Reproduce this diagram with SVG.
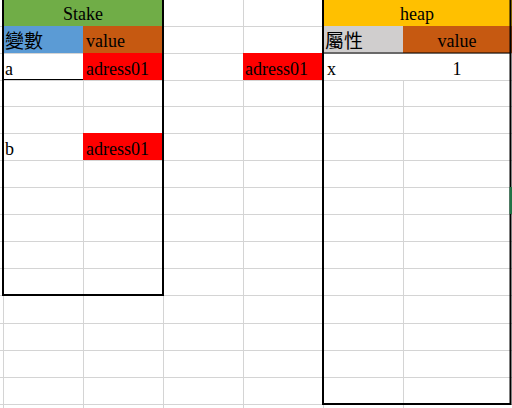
<svg xmlns="http://www.w3.org/2000/svg" width="512" height="408" viewBox="0 0 512 408">
  <style>
    .grid line { stroke: #d4d4d4; stroke-width: 1; }
    .t { font-family: "Liberation Serif", "Noto Sans CJK TC", serif; font-size: 18px; fill: #000; }
    .cjk { font-family: "Noto Sans CJK TC", "Liberation Serif", sans-serif; font-size: 19px; fill: #000; }
    .mid { text-anchor: middle; }
    .box { fill: none; stroke: #000; stroke-width: 2; }
    .thin { stroke: #000; stroke-width: 1.2; }
  </style>
  <rect width="512" height="408" fill="#ffffff"/>
  <g class="grid" id="grid">
    <line x1="0" y1="26.5" x2="512" y2="26.5"/>
    <line x1="0" y1="53.5" x2="512" y2="53.5"/>
    <line x1="0" y1="80.5" x2="512" y2="80.5"/>
    <line x1="0" y1="106.5" x2="512" y2="106.5"/>
    <line x1="0" y1="133.5" x2="512" y2="133.5"/>
    <line x1="0" y1="160.5" x2="512" y2="160.5"/>
    <line x1="0" y1="187.5" x2="512" y2="187.5"/>
    <line x1="0" y1="214.5" x2="512" y2="214.5"/>
    <line x1="0" y1="241.5" x2="512" y2="241.5"/>
    <line x1="0" y1="268.5" x2="512" y2="268.5"/>
    <line x1="0" y1="295.5" x2="512" y2="295.5"/>
    <line x1="0" y1="323.5" x2="512" y2="323.5"/>
    <line x1="0" y1="350.5" x2="512" y2="350.5"/>
    <line x1="0" y1="377.5" x2="512" y2="377.5"/>
    <line x1="0" y1="404.5" x2="512" y2="404.5"/>
    <line x1="3.5" y1="0" x2="3.5" y2="408"/>
    <line x1="83.5" y1="0" x2="83.5" y2="408"/>
    <line x1="163.5" y1="0" x2="163.5" y2="408"/>
    <line x1="243.5" y1="0" x2="243.5" y2="408"/>
    <line x1="323.5" y1="0" x2="323.5" y2="408"/>
    <line x1="403.5" y1="80" x2="403.5" y2="408"/>
  </g>

  <g id="stake">
    <rect x="3" y="0" width="160" height="26" fill="#70ad47"/>
    <rect x="3" y="26" width="80" height="27" fill="#5b9bd5"/>
    <rect x="83" y="26" width="80" height="27" fill="#c65911"/>
    <rect x="4" y="54" width="79" height="25" fill="#ffffff"/>
    <rect x="83" y="53" width="80" height="27" fill="#ff0000"/>
    <rect x="83" y="133" width="80" height="27" fill="#ff0000"/>
    <line class="thin" x1="3" y1="79.5" x2="83" y2="79.5"/>
    <rect class="box" x="3" y="-2" width="160" height="297"/>
    <text class="t mid" x="83" y="20">Stake</text>
    <text class="cjk" x="5" y="48">變數</text>
    <text class="t" x="86" y="47">value</text>
    <text class="t" x="5" y="75">a</text>
    <text class="t" x="86" y="75">adress01</text>
    <text class="t" x="5" y="155">b</text>
    <text class="t" x="86" y="155">adress01</text>
  </g>

  <g id="pointer">
    <rect x="243" y="53" width="80" height="27" fill="#ff0000"/>
    <text class="t" x="245" y="75">adress01</text>
  </g>

  <g id="heap">
    <rect x="323" y="0" width="189" height="26" fill="#ffc000"/>
    <rect x="323" y="26" width="80" height="27" fill="#d0cece"/>
    <rect x="403" y="26" width="109" height="27" fill="#c65911"/>
    <rect x="324" y="54" width="186" height="25" fill="#ffffff"/>
    <line class="thin" x1="323" y1="53" x2="511" y2="53"/>
    <rect class="box" x="323" y="-2" width="187.5" height="406"/>
    <rect x="509.5" y="187" width="2.5" height="27" fill="#217346"/>
    <text class="t mid" x="417" y="20">heap</text>
    <text class="cjk" x="325" y="48">屬性</text>
    <text class="t mid" x="457" y="47">value</text>
    <text class="t" x="327" y="75">x</text>
    <text class="t mid" x="457" y="75">1</text>
  </g>

  <g id="connectors"></g>
</svg>
